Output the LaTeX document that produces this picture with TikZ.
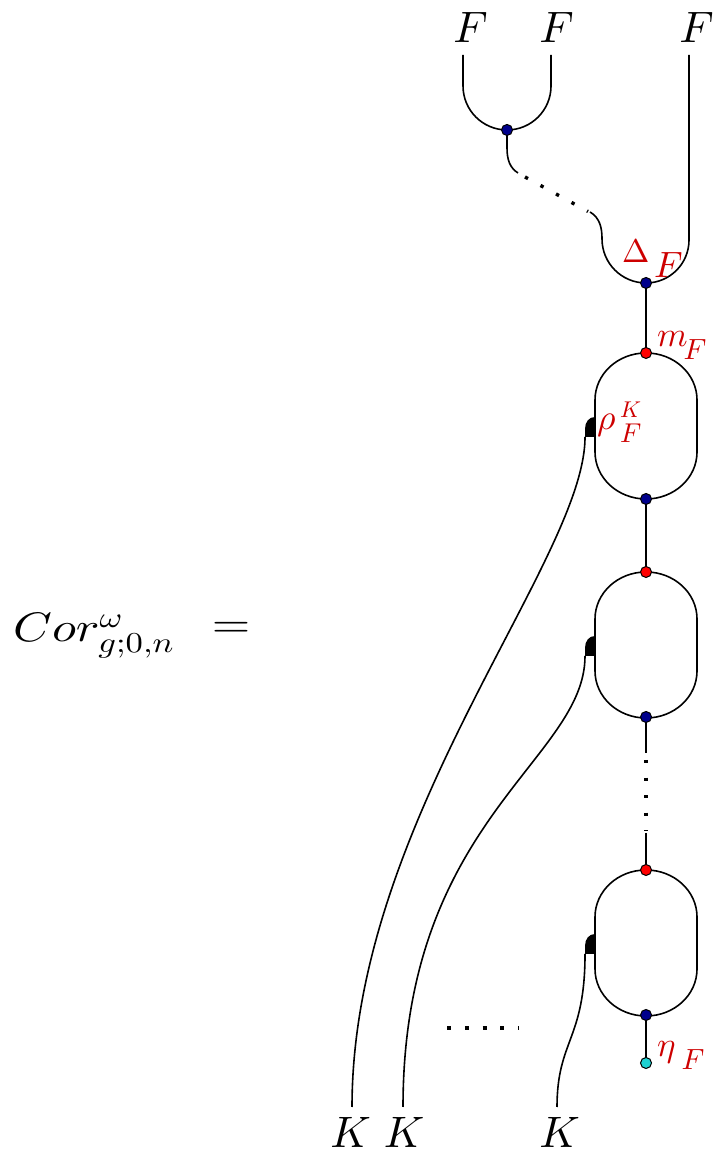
\documentclass[tikz,border=0pt]{standalone}
\DeclareFontShape{OML}{cmm}{m}{it}{<->cmmi10}{}
\DeclareFontShape{OT1}{cmr}{m}{n}{<->cmr10}{}
\usetikzlibrary{backgrounds}
\definecolor{navy}{RGB}{0,0,140}
\definecolor{dotred}{RGB}{255,0,0}
\definecolor{dotcyan}{RGB}{30,210,210}
\definecolor{labred}{RGB}{205,0,0}
\begin{document}
\begin{tikzpicture}[x=0.25pt,y=0.25pt,line width=0.5pt,
  dot/.style={circle,inner sep=0pt,minimum size=2.75pt,draw=black,line width=0.25pt},
  bdot/.style={dot,fill=navy},
  rdot/.style={dot,fill=dotred},
  cdot/.style={dot,fill=dotcyan},
  lab/.style={inner sep=0pt,anchor=base west,text=labred},
  big/.style={font=\fontsize{11}{13}\selectfont,inner sep=0pt},
  dotsline/.style={line width=0.85pt,dash pattern=on 0.85pt off #1},
  loopshape/.pic={
    \draw (0,0) arc[start angle=90,end angle=180,x radius=51,y radius=47]
      -- ++(0,-52) arc[start angle=180,end angle=270,x radius=51,y radius=47]
      arc[start angle=270,end angle=360,x radius=51,y radius=47]
      -- ++(0,52) arc[start angle=0,end angle=90,x radius=51,y radius=47];
    \fill (-51,-64) .. controls (-57,-64) and (-61,-69) .. (-61,-76) -- (-61,-84) -- (-51,-84) -- cycle;
  }]
\useasboundingbox (0,0) rectangle (716,1151);

% labels
\node[big] (F1) at (470.5,1123.5) {$F$};
\node[big] (F2) at (556.5,1123.5) {$F$};
\node[big] (F3) at (696.5,1123.5) {$F$};
\node[big] (K1) at (350.7,18.5) {$K$};
\node[big] (K2) at (404,18.5) {$K$};
\node[big] (K3) at (559.7,18.5) {$K$};

\node[anchor=base west,inner sep=0pt,xscale=1.2,font=\fontsize{10.3}{12}\selectfont] (cor) at (12,509) {$Cor^{\omega}_{g;0,n}$};
\node[anchor=base,inner sep=0pt,xscale=1.2,font=\fontsize{10.3}{12}\selectfont] (eq) at (231,513) {$=$};

% dots
\node[bdot] (d1) at (507,1021) {};
\node[bdot] (d2) at (646,868) {};
\node[rdot] (r1) at (646,798) {};
\node[bdot] (b1) at (646,652) {};
\node[rdot] (r2) at (646,579) {};
\node[bdot] (b2) at (646,434) {};
\node[rdot] (r3) at (646,281) {};
\node[bdot] (b3) at (646,136) {};
\node[cdot] (c1) at (646,88) {};

% red labels
\node[lab] (lD) at (621,888) {\fontsize{8.2}{9}\selectfont$\Delta$\hspace{1.2pt}\raisebox{-3.75pt}{\fontsize{9.15}{10}\selectfont$F$}};
\node[lab] (lm) at (656,804) {\fontsize{8.7}{9}\selectfont$m$\hspace{-1.0pt}\raisebox{-3.25pt}{\fontsize{7.3}{8}\selectfont$F$}};
\node[lab] (lr) at (596,721) {\fontsize{8.9}{9}\selectfont$\rho$\hspace{1.2pt}\rlap{\raisebox{3pt}{\fontsize{5.7}{6}\selectfont$K$}}\raisebox{-3.25pt}{\fontsize{6.8}{7}\selectfont$F$}};
\node[lab] (le) at (656,94) {\fontsize{8.7}{9}\selectfont$\eta$\hspace{1.5pt}\raisebox{-3.25pt}{\fontsize{7.3}{8}\selectfont$F$}};

\coordinate (f1) at (463,1096);
\coordinate (f2) at (551,1096);
\coordinate (f3) at (689,1096);
\coordinate (k1) at (352,44);
\coordinate (k2) at (403,44);
\coordinate (k3) at (557,44);

\begin{scope}[on background layer]
  % top cup
  \draw (f1) -- (463,1065) arc[start angle=180,end angle=270,radius=44]
        arc[start angle=270,end angle=360,radius=44] -- (f2);
  \draw (d1.center) -- (507,1003) .. controls (507,991) and (510,983) .. (518,978);
  \draw[dotsline=3.57pt] (525,974) -- (588,939.5);
  \draw (590,939) .. controls (600,933) and (602,923) .. (602,912)
        arc[start angle=180,end angle=270,radius=44];
  \draw (f3) -- (689,911) arc[start angle=0,end angle=-90,radius=43];
  \draw (d2.center) -- (r1.center);
  % loops
  \pic at (r1) {loopshape};
  \draw (b1.center) -- (r2.center);
  \pic at (r2) {loopshape};
  \draw (b2.center) -- (646,398);
  \draw[dotsline=3.53pt] (646,391) -- (646,320);
  \draw (646,318) -- (r3.center);
  \pic at (r3) {loopshape};
  \draw (b3.center) -- (c1.center);
  % K strands
  \draw (585,714) .. controls (585,591) and (352,331) .. (k1);
  \draw (585,495) .. controls (585,391) and (403,331) .. (k2);
  \draw (585,197) .. controls (585,111) and (557,111) .. (k3);
  \draw[line width=1pt,dash pattern=on 1pt off 3.44pt] (447,123) -- (519,123);
\end{scope}
\end{tikzpicture}
\end{document}
